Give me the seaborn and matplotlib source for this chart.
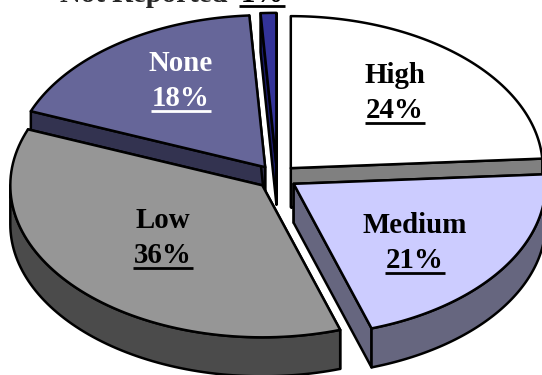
import numpy as np
import matplotlib
matplotlib.use("Agg")
import matplotlib.pyplot as plt
from matplotlib.patches import Polygon
import seaborn as sns

# Survey shares, clockwise from twelve o'clock
categories = ["High", "Medium", "Low", "None", "Not Reported"]
shares = [24, 21, 36, 18, 1]
top_colors = ["#ffffff", "#ccccff", "#969696", "#666699", "#333399"]
side_colors = ["#808080", "#66667f", "#4b4b4b", "#333350", "#1a1a66"]
label_colors = ["black", "black", "black", "white", "black"]

# Projection of the tilted disc, in pixels
CENTER = (277.0, 177.0)
RX, RY = 252.0, 152.0
DEPTH = 39.0
EXPLODE = 0.08
EDGE = 1.8
BACK_TO_FRONT = [4, 3, 0, 2, 1]

# Label anchors (centre x, first-line baseline, second-line baseline)
label_spots = {
    "High": (395, 83, 118),
    "Medium": (415, 233, 268),
    "Low": (163, 228, 263),
    "None": (181, 71, 106),
}

sns.set_theme(style="white")
plt.rcParams["font.family"] = ["Liberation Serif", "DejaVu Serif"]

fig, ax = plt.subplots(figsize=(5.42, 3.75), dpi=100)
fig.subplots_adjust(0, 0, 1, 1)
ax.set_xlim(0, 542)
ax.set_ylim(375, 0)
ax.axis("off")
sns.despine(ax=ax, left=True, bottom=True)


def point(angle, radius=1.0, origin=CENTER):
    """Screen position of a clockwise-from-top angle on the disc."""
    return np.array([origin[0] + radius * RX * np.sin(angle),
                     origin[1] - radius * RY * np.cos(angle)])


fractions = np.array(shares, dtype=float) / np.sum(shares)
edges = np.concatenate([[0.0], np.cumsum(fractions)]) * 2 * np.pi


def add_poly(points, color, z):
    ax.add_patch(Polygon(points, closed=True, facecolor=color, edgecolor="black",
                         linewidth=EDGE, joinstyle="round", zorder=z))


for order, idx in enumerate(BACK_TO_FRONT):
    start, stop = edges[idx], edges[idx + 1]
    middle = (start + stop) / 2
    origin = point(middle, EXPLODE)
    arc = np.array([point(a, 1.0, origin) for a in np.linspace(start, stop, 80)])
    drop = np.array([0.0, DEPTH])
    z = 1 + order * 4
    # Radial side faces first
    for rim_end in (arc[0], arc[-1]):
        add_poly([origin, rim_end, rim_end + drop, origin + drop], side_colors[idx], z)
    # The curved rim only shows on the near half of the disc
    near_start, near_stop = max(start, np.pi / 2), min(stop, 3 * np.pi / 2)
    if near_stop > near_start:
        rim = np.array([point(a, 1.0, origin)
                        for a in np.linspace(near_start, near_stop, 80)])
        add_poly(np.vstack([rim, (rim + drop)[::-1]]), side_colors[idx], z + 1)
    # Upper face last
    add_poly(np.vstack([[origin], arc]), top_colors[idx], z + 2)


def underlined(x, y, text, color, size):
    """Bold centred text with a rule under it."""
    t = ax.text(x, y, text, color=color, fontsize=size, fontweight="bold",
                ha="center", va="baseline", zorder=50)
    box = t.get_window_extent(fig.canvas.get_renderer())
    half = box.width / 2 + 1
    ax.plot([x - half, x + half], [y + 4.5, y + 4.5], color=color,
            linewidth=2.0, solid_capstyle="butt", zorder=50)


FONT_SIZE = 20.8
for name, share, color in zip(categories, shares, label_colors):
    if name not in label_spots:
        continue
    x, y1, y2 = label_spots[name]
    ax.text(x, y1, name, color=color, fontsize=FONT_SIZE, fontweight="bold",
            ha="center", va="baseline", zorder=50)
    underlined(x, y2, f"{share}%", color, FONT_SIZE)

# The smallest slice is labelled on one line above the disc, cut by the frame
ax.text(235, 1.5, f"{categories[4]} ", fontsize=FONT_SIZE, fontweight="bold",
        ha="right", va="baseline", zorder=50, clip_on=True)
underlined(262, 1.5, f"{shares[4]}%", "black", FONT_SIZE)

fig.savefig("out.png", dpi=100, facecolor="white")
